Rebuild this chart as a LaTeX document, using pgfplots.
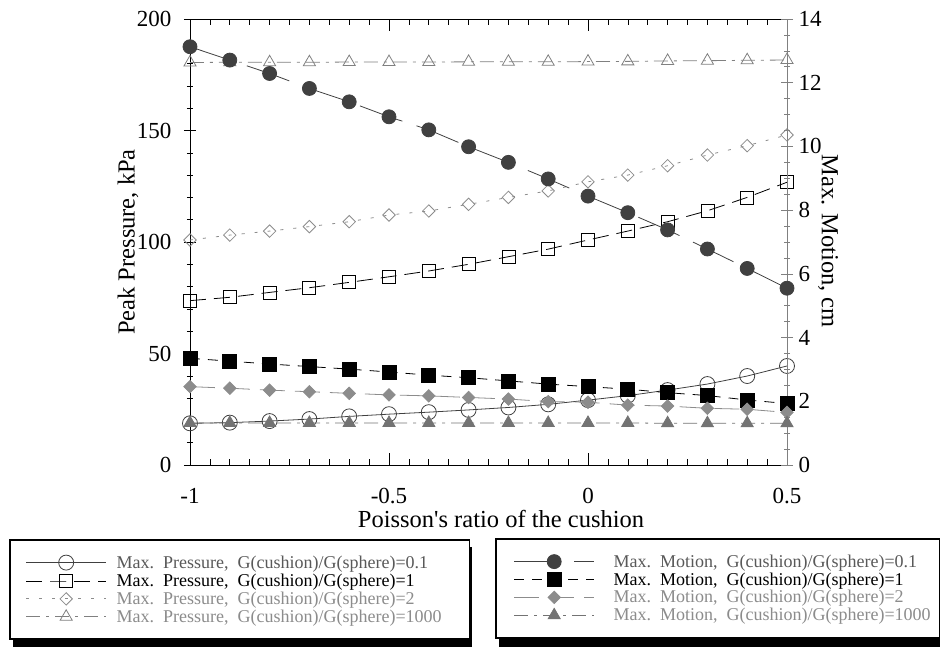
\documentclass[border=0pt]{standalone}
\usepackage{fontspec}
\setmainfont{Liberation Serif}
\usepackage{pgfplots}
\pgfplotsset{compat=1.18}
\usetikzlibrary{shadows}

\newcommand{\LEL}[2]{\fontsize{18}{21}\selectfont\textcolor{#1}{\makebox[337pt][l]{#2}}}
\newcommand{\LER}[2]{\fontsize{18}{21}\selectfont\textcolor{#1}{\makebox[308pt][l]{#2}}}

\pgfplotstableread{
x P01 P1 P2 P1000
-1.0 18.7 73.7 100.9 180.5
-0.9 19.0 75.2 103.1 180.6
-0.8 19.7 77.4 104.9 180.6
-0.7 20.6 79.5 106.9 180.6
-0.6 21.8 81.9 109.1 180.7
-0.5 22.8 84.4 112.1 180.7
-0.4 23.7 87.0 113.9 180.7
-0.3 24.7 90.0 116.9 180.8
-0.2 25.8 93.4 120.0 180.8
-0.1 27.2 96.8 122.9 180.8
0.0 29.1 100.9 127.0 180.9
0.1 31.1 104.9 130.0 181.0
0.2 33.6 109.1 134.2 181.2
0.3 36.3 114.0 139.0 181.3
0.4 39.9 120.0 143.2 181.5
0.5 44.4 126.8 148.0 181.6
}\pressure

\pgfplotstableread{
x M01 M1 M2 M1000
-1.0 13.13 3.35 2.46 1.32
-0.9 12.71 3.26 2.41 1.32
-0.8 12.29 3.17 2.35 1.32
-0.7 11.82 3.09 2.30 1.32
-0.6 11.40 3.01 2.25 1.32
-0.5 10.93 2.92 2.20 1.32
-0.4 10.52 2.82 2.17 1.32
-0.3 9.99 2.74 2.12 1.32
-0.2 9.50 2.64 2.07 1.32
-0.1 8.98 2.54 1.99 1.32
0.0 8.44 2.46 1.97 1.32
0.1 7.92 2.38 1.88 1.32
0.2 7.38 2.27 1.85 1.31
0.3 6.78 2.18 1.78 1.31
0.4 6.17 2.04 1.75 1.31
0.5 5.55 1.93 1.65 1.31
}\motion

\begin{document}
\begin{tikzpicture}
\useasboundingbox (-190pt,-184pt) rectangle (750pt,465pt);
% drop shadows of the two legend boxes (drawn first, behind the legends)
\fill[black] (-177pt,-82pt) rectangle (282pt,-182pt);
\fill[black] (309pt,-81pt) rectangle (752pt,-182pt);
\pgfplotsset{
  common/.style={
    scale only axis, width=597pt, height=446pt,
    xmin=-1, xmax=0.5, clip=false,
    tick align=inside, major tick length=12pt, minor tick length=6pt,
    /pgf/number format/assume math mode=true,
    ticklabel style={font=\fontsize{23}{27}\selectfont},
    legend cell align=left,
    legend image code/.code={\draw[mark repeat=2,mark phase=2,##1] plot coordinates {(0pt,0pt) (40pt,0pt) (80pt,0pt)};},
  },
}
\begin{axis}[common,
  axis x line=box, axis y line=left, axis line style={-, black, line width=0.8pt},
  ymin=0, ymax=200,
  xtick={-1,-0.5,0,0.5}, xticklabels={-1,-0.5,0,0.5},
  minor x tick num=9,
  ytick={0,50,100,150,200}, minor y tick num=4,
  xticklabel style={anchor=base, yshift=-38pt},
  yticklabel style={xshift=-9pt},
  tick style={black, line width=0.6pt},
  xlabel={Poisson\textquotesingle s ratio of the cushion},
  ylabel={Peak Pressure, kPa},
  every axis x label/.style={at={(axis description cs:0.521,-0.139)}, anchor=base, font=\fontsize{24.5}{29}\selectfont},
  every axis y label/.style={at={(axis description cs:-0.1039,0.5)}, rotate=90, anchor=center, font=\fontsize{24.5}{29}\selectfont},
  legend style={at={(axis description cs:-0.3032,-0.1659)}, anchor=north west,
    draw=black, line width=1.6pt, fill=white,
    inner xsep=16pt, inner ysep=15.3pt, row sep=3.9pt, column sep=10pt,
    nodes={inner sep=0pt}},
]
\addplot[black!75, line width=0.8pt, solid, mark=o, mark size=7.5pt, mark options={solid}] table[x=x,y=P01]{\pressure};
\addlegendentry{\LEL{black!65}{Max.\ \ Pressure,\ \ G(cushion)/G(sphere)=0.1}}
\addplot[black, line width=0.8pt, dash pattern=on 16pt off 8pt, mark=square, mark size=6.5pt, mark options={solid}] table[x=x,y=P1]{\pressure};
\addlegendentry{\LEL{black}{Max.\ \ Pressure,\ \ G(cushion)/G(sphere)=1}}
\addplot[black!45, line width=0.8pt, dash pattern=on 3pt off 10pt, mark=square, mark size=4.4pt, mark options={solid, rotate=45}] table[x=x,y=P2]{\pressure};
\addlegendentry{\LEL{black!45}{Max.\ \ Pressure,\ \ G(cushion)/G(sphere)=2}}
\addplot[black!50, line width=0.8pt, dash pattern=on 14pt off 6pt on 3pt off 6pt, mark=triangle, mark size=7pt, mark options={solid}] table[x=x,y=P1000]{\pressure};
\addlegendentry{\LEL{black!45}{Max.\ \ Pressure,\ \ G(cushion)/G(sphere)=1000}}
\end{axis}

\begin{axis}[common,
  axis x line=none, axis y line=right,
  y axis line style={-, black!50, line width=0.8pt},
  ymin=0, ymax=14,
  ytick={0,2,4,6,8,10,12,14}, minor y tick num=3,
  yticklabel style={xshift=2pt},
  ytick style={black!50, line width=0.6pt},
  ylabel={Max. Motion, cm},
  every axis y label/.style={at={(axis description cs:1.0687,0.502)}, rotate=-90, anchor=center, font=\fontsize{24.5}{29}\selectfont},
  legend style={at={(axis description cs:0.5109,-0.1637)}, anchor=north west,
    draw=black, line width=1.6pt, fill=white,
    inner xsep=18pt, inner ysep=15.8pt, row sep=3.9pt, column sep=19pt,
    nodes={inner sep=0pt}},
]
\addplot[black!75, line width=0.8pt, dash pattern=on 45pt off 15pt, mark=*, mark size=7pt, mark options={solid, fill=black!75}] table[x=x,y=M01]{\motion};
\addlegendentry{\LER{black!65}{Max.\ \ Motion,\ \ G(cushion)/G(sphere)=0.1}}
\addplot[black, line width=0.8pt, dash pattern=on 10pt off 8pt, mark=square*, mark size=7pt, mark options={solid, fill=black}] table[x=x,y=M1]{\motion};
\addlegendentry{\LER{black}{Max.\ \ Motion,\ \ G(cushion)/G(sphere)=1}}
\addplot[black!45, line width=0.8pt, dash pattern=on 25pt off 10pt, mark=square*, mark size=4.4pt, mark options={solid, rotate=45, fill=black!45}] table[x=x,y=M2]{\motion};
\addlegendentry{\LER{black!45}{Max.\ \ Motion,\ \ G(cushion)/G(sphere)=2}}
\addplot[black!55, line width=0.8pt, dash pattern=on 14pt off 6pt on 3pt off 6pt, mark=triangle*, mark size=7pt, mark options={solid, fill=black!55}] table[x=x,y=M1000]{\motion};
\addlegendentry{\LER{black!45}{Max.\ \ Motion,\ \ G(cushion)/G(sphere)=1000}}
\end{axis}
\end{tikzpicture}
\end{document}
